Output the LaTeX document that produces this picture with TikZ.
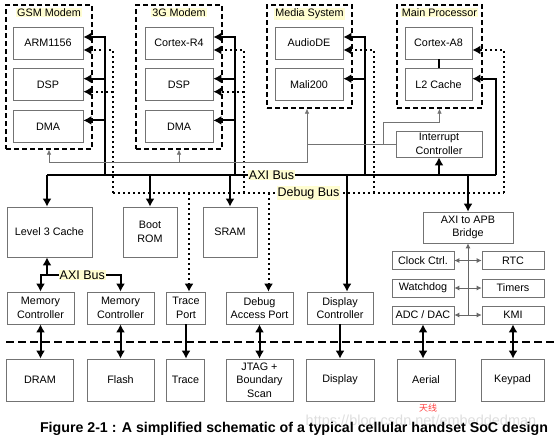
\documentclass[tikz,border=0pt]{standalone}
\usepackage{fontspec}
\setmainfont{Liberation Sans}
\newfontfamily\cjkfont{Noto Sans CJK SC}
\usetikzlibrary{arrows.meta,positioning,fit}

\begin{document}
\begin{tikzpicture}[x=1pt, y=-1pt, >={Latex[length=8pt,width=9pt]},
    every node/.style={font=\fontsize{10.8}{13.5}\selectfont, align=center, inner sep=0pt},
    blk/.style={draw=black!55, line width=0.7pt, fill=white},
    modbox/.style={blk, minimum width=68pt, minimum height=32pt},
    perbox/.style={blk, minimum width=62pt, minimum height=18pt},
    ctlbox/.style={blk, minimum height=32pt},
    extbox/.style={blk, minimum height=42pt},
    grp/.style={draw, line width=1.3pt, dash pattern=on 5pt off 3pt},
    hilite/.style={fill=yellow!18, inner sep=1pt},
    buslbl/.style={hilite, font=\fontsize{12.5}{14}\selectfont},
    bus/.style={line width=2pt},
    dbg/.style={line width=2pt, dash pattern=on 2pt off 3pt},
    irq/.style={draw=black!55, line width=0.7pt, >={Latex[length=5pt,width=4.5pt]}},
    periph/.style={draw=black!60, line width=0.8pt, >={Latex[length=5pt,width=5pt]}}]

    \useasboundingbox (0,0) rectangle (554,440);

    % processor groups
    \node[grp, minimum width=86pt, minimum height=144pt] (gsm) at (49,77) {};
    \node[hilite, below=3pt of gsm.north] (gsmlbl) {GSM Modem};
    \node[grp, minimum width=86pt, minimum height=144pt] (g3) at (179,77) {};
    \node[hilite, below=3pt of g3.north] (g3lbl) {3G Modem};
    \node[grp, minimum width=85pt, minimum height=103pt] (media) at (309.5,56.5) {};
    \node[hilite, below=3pt of media.north] (medialbl) {Media System};
    \node[grp, minimum width=85pt, minimum height=103pt] (mainp) at (439.5,56.5) {};
    \node[hilite, below=3pt of mainp.north] (mainplbl) {Main Processor};

    \node[modbox, minimum width=70pt] (arm) at (48,43) {ARM1156};
    \node[modbox, minimum width=70pt, below=9pt of arm] (gdsp) {DSP};
    \node[modbox, minimum width=70pt, below=9pt of gdsp] (gdma) {DMA};
    \node[modbox] (cr4) at (179,43) {Cortex-R4};
    \node[modbox, below=9pt of cr4] (tdsp) {DSP};
    \node[modbox, below=9pt of tdsp] (tdma) {DMA};
    \node[modbox] (audio) at (309,43) {AudioDE};
    \node[modbox, below=9pt of audio] (mali) {Mali200};
    \node[modbox, minimum width=67pt] (a8) at (438.5,43) {Cortex-A8};
    \node[modbox, minimum width=67pt, below=9pt of a8] (l2) {L2 Cache};
    \draw[bus] (a8) -- (l2);

    \node[blk, minimum width=86pt, minimum height=26pt] (irqc) at (439,144) {Interrupt\\Controller};

    % on-chip blocks
    \node[blk, minimum width=85pt, minimum height=50pt] (l3) at (49.5,232) {Level 3 Cache};
    \node[blk, minimum width=54pt, minimum height=50pt] (boot) at (150,232) {Boot\\ROM};
    \node[blk, minimum width=54pt, minimum height=50pt] (sram) at (230,232) {SRAM};
    \node[blk, minimum width=90pt, minimum height=31pt] (bridge) at (468,227.5) {AXI to APB\\Bridge};

    \node[perbox] (clk) at (423,260.5) {Clock Ctrl.};
    \node[perbox] (rtc) at (513,260.5) {RTC};
    \node[perbox] (wdog) at (423,288) {Watchdog};
    \node[perbox] (timers) at (513,288) {Timers};
    \node[perbox] (adc) at (423,315) {ADC / DAC};
    \node[perbox] (kmi) at (513,315) {KMI};

    \node[ctlbox, minimum width=67pt] (mc1) at (40.5,308) {Memory\\Controller};
    \node[ctlbox, minimum width=67pt] (mc2) at (120.5,308) {Memory\\Controller};
    \node[ctlbox, minimum width=39pt] (tport) at (186,308) {Trace\\Port};
    \node[ctlbox, minimum width=67pt] (dap) at (259.5,308) {Debug\\Access Port};
    \node[ctlbox, minimum width=66pt] (dispc) at (340,308) {Display\\Controller};

    % off-chip devices
    \draw[line width=1.3pt, dash pattern=on 8pt off 4pt] (6,342) -- (554,342);
    \node[extbox, minimum width=67pt] (dram) at (40,380) {DRAM};
    \node[extbox, minimum width=67pt] (flash) at (120.5,380) {Flash};
    \node[extbox, minimum width=38pt] (trace) at (185.5,380) {Trace};
    \node[extbox, minimum width=67pt] (jtag) at (259.5,380) {JTAG +\\Boundary\\Scan};
    \node[extbox, minimum width=68pt] (display) at (340,380) {Display};
    \node[extbox, minimum width=58pt] (aerial) at (426,380) {Aerial};
    \node[extbox, minimum width=63pt] (keypad) at (512.5,380) {Keypad};

    % AXI bus
    \coordinate (axL) at (47,175);
    \coordinate (axR) at (496,175);
    \coordinate (gsmAxi) at (105,175);
    \coordinate (tgAxi) at (235,175);
    \coordinate (medAxi) at (365,175);
    \draw[bus] (axL) -- node[buslbl] (axilbl) {AXI Bus} (axR);
    \draw[bus,->] (axL) -- (axL |- l3.north);
    \draw[bus,->] (boot.north |- axL) -- (boot.north);
    \draw[bus,->] (sram.north |- axL) -- (sram.north);
    \draw[bus,->] ([xshift=7pt]dispc.north |- axL) -- ([xshift=7pt]dispc.north);
    \draw[bus,->] (bridge.north |- axL) -- (bridge.north);
    \draw[bus,->] (irqc.south |- axL) -- (irqc.south);
    \draw[bus,->] (gsmAxi) |- ([yshift=6pt]arm.east);
    \draw[bus,->] ([yshift=6pt]gdsp.east -| gsmAxi) -- ([yshift=6pt]gdsp.east);
    \draw[bus,->] ([yshift=6pt]gdma.east -| gsmAxi) -- ([yshift=6pt]gdma.east);
    \draw[bus,->] (tgAxi) |- ([yshift=6pt]cr4.east);
    \draw[bus,->] ([yshift=6pt]tdsp.east -| tgAxi) -- ([yshift=6pt]tdsp.east);
    \draw[bus,->] ([yshift=6pt]tdma.east -| tgAxi) -- ([yshift=6pt]tdma.east);
    \draw[bus,->] (medAxi) |- ([yshift=6pt]audio.east);
    \draw[bus,->] ([yshift=6pt]mali.east -| medAxi) -- ([yshift=6pt]mali.east);
    \draw[bus,->] (axR) |- ([yshift=6pt]l2.east);

    % debug bus
    \coordinate (gsmDbg) at (113,193);
    \coordinate (tgDbg) at (244,193);
    \coordinate (medDbg) at (374,193);
    \coordinate (mpDbg) at (504,193);
    \draw[dbg] (gsmDbg) -- node[buslbl] (dbglbl) {Debug Bus} (mpDbg);
    \draw[dbg,->] (gsmDbg) |- ([yshift=-7pt]arm.east);
    \draw[dbg,->] ([yshift=-7pt]gdsp.east -| gsmDbg) -- ([yshift=-7pt]gdsp.east);
    \draw[dbg,->] (tgDbg) |- ([yshift=-7pt]cr4.east);
    \draw[dbg,->] ([yshift=-7pt]tdsp.east -| tgDbg) -- ([yshift=-7pt]tdsp.east);
    \draw[dbg,->] (medDbg) |- ([yshift=-7pt]audio.east);
    \draw[dbg,->] (mpDbg) |- ([yshift=-7pt]a8.east);
    \draw[dbg,->] ([xshift=3pt]tport.north |- gsmDbg) -- ([xshift=3pt]tport.north);
    \draw[dbg,->] ([xshift=9pt]dap.north |- gsmDbg) -- ([xshift=9pt]dap.north);

    % interrupt lines
    \coordinate (irqA) at (307,144);
    \coordinate (irqB) at (307,162);
    \coordinate (irqC) at (383,144);
    \coordinate (irqD) at (383,122);
    \draw[irq,->] (irqc.west) -- (irqA) -- (irqA |- media.south);
    \draw[irq] (irqA) -- (irqB) -- (irqB -| gsm.south);
    \draw[irq,->] (irqB -| gsm.south) -- (gsm.south);
    \draw[irq,->] (irqB -| g3.south) -- (g3.south);
    \draw[irq,->] (irqC) -- (irqD) -| (mainp.south);

    % memory side AXI bus
    \coordinate (l3ax) at (47,275);
    \draw[bus,->] (l3ax) -- (l3ax |- l3.south);
    \draw[bus,->] (l3ax) -| (mc1.north);
    \draw[bus,->] (l3ax) -| node[buslbl, pos=0.24] (axilbl2) {AXI Bus} (mc2.north);

    % APB peripherals
    \draw[periph,->] (adc.east -| bridge.south) -- (bridge.south);
    \foreach \a/\b in {clk/rtc, wdog/timers, adc/kmi}
        \draw[periph,<->] (\a) -- (\b);

    % pins
    \foreach \a/\b in {mc1/dram, mc2/flash, dap/jtag, adc/aerial, kmi/keypad}
        \draw[bus,<->] (\a.south) -- (\a.south |- \b.north);
    \foreach \a/\b in {tport/trace, dispc/display}
        \draw[bus,->] (\a.south) -- (\a.south |- \b.north);

    \node[text=red!75, font=\cjkfont\fontsize{9}{10}\selectfont] (note) at (428,408) {天线};
    \node[text=black!13, font=\fontsize{14.5}{16}\selectfont] (wmark) at (421,422) {https://blog.csdn.net/embeddedman};
    \node[font=\bfseries\fontsize{14.2}{16}\selectfont] (caption) at (294,429) {Figure 2-1 : A simplified schematic of a typical cellular handset SoC design};
\end{tikzpicture}
\end{document}
